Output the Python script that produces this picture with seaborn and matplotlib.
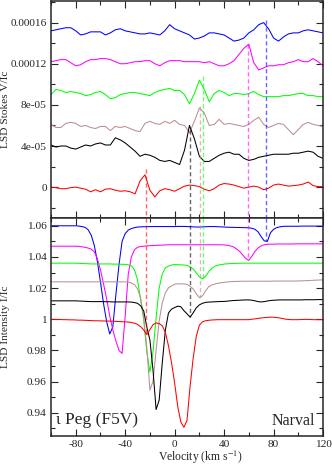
import numpy as np
import pandas as pd
import matplotlib
matplotlib.use("Agg")
import matplotlib.pyplot as plt
import seaborn as sns

# -------------------------------
# Data
# -------------------------------
epochs = ["blue", "magenta", "green", "brown", "black", "red"]
colors = ["#0000ff", "#ff00ff", "#00ff00", "#bc8f8f", "#000000", "#ff0000"]

vel_stokes = np.arange(-100, 121, 4)      # km/s, 56 samples
vel_int = np.arange(-100, 120.1, 2.5)     # km/s, 89 samples

# Stokes V/Ic, in units of 1e-5 (curves already shifted)
stokes_blue = [15.2, 15.3, 15.4, 15.5, 15.5, 15.2, 14.8, 14.9,
               15.1, 15.1, 15.1, 14.8, 15.0, 15.3, 15.4, 15.2,
               15.1, 15.0, 14.9, 14.9, 15.0, 14.9, 14.8, 15.2,
               15.8, 15.4, 15.2, 15.0, 14.8, 14.4, 14.5, 14.7,
               15.0, 15.0, 14.9, 14.8, 14.5, 14.2, 14.3, 14.5,
               15.0, 15.3, 15.8, 16.0, 15.4, 14.5, 14.2, 14.6,
               14.9, 15.0, 15.0, 15.2, 15.3, 15.2, 15.1, 15.0]
stokes_magenta = [12.2, 12.3, 12.4, 12.4, 12.1, 11.8, 11.9, 12.2,
                  12.4, 12.4, 12.5, 12.5, 12.4, 12.2, 12.0, 12.0,
                  12.1, 12.2, 12.2, 12.3, 12.3, 12.0, 11.8, 12.1,
                  12.3, 12.3, 12.3, 12.2, 12.2, 12.2, 12.2, 12.1,
                  12.2, 12.0, 11.8, 11.8, 12.0, 12.3, 12.9, 13.5,
                  13.9, 12.1, 11.4, 11.6, 11.8, 11.8, 11.9, 11.9,
                  12.1, 12.2, 12.4, 12.2, 12.2, 12.5, 12.2, 11.8]
stokes_green = [9.0, 9.5, 9.4, 9.2, 9.3, 9.2, 9.1, 8.9,
                9.0, 9.2, 9.3, 9.0, 8.6, 8.7, 9.0, 9.1,
                9.2, 9.2, 9.1, 9.0, 8.9, 9.2, 9.4, 9.5,
                9.6, 9.4, 9.4, 9.0, 8.1, 9.1, 10.4, 9.5,
                8.3, 9.1, 9.4, 9.2, 8.9, 9.1, 9.1, 9.0,
                9.1, 9.3, 9.0, 8.8, 8.8, 8.8, 8.8, 8.9,
                8.9, 9.0, 9.1, 9.1, 8.9, 8.9, 8.8, 8.8]
stokes_brown = [6.1, 5.8, 5.8, 6.2, 6.3, 6.2, 5.9, 6.0,
                5.8, 5.7, 5.9, 5.9, 5.5, 5.9, 5.8, 5.9,
                5.7, 5.5, 5.4, 6.2, 6.4, 6.2, 6.1, 6.4,
                6.2, 6.5, 6.1, 6.0, 5.3, 6.4, 7.7, 7.2,
                6.0, 6.1, 6.6, 6.1, 6.2, 6.1, 6.0, 5.9,
                6.1, 6.5, 6.8, 6.1, 5.8, 6.0, 6.2, 6.1,
                5.6, 5.1, 5.6, 6.1, 6.3, 6.1, 6.0, 5.9]
stokes_black = [4.1, 3.9, 4.0, 4.0, 3.8, 3.7, 3.9, 4.1,
                4.0, 4.2, 4.3, 4.1, 4.1, 4.8, 4.6, 4.3,
                3.9, 3.5, 3.0, 3.2, 3.1, 2.9, 2.6, 2.5,
                2.6, 2.4, 2.2, 3.6, 6.0, 4.7, 3.0, 2.5,
                2.5, 2.8, 3.1, 3.3, 3.4, 3.2, 3.2, 2.8,
                2.6, 2.7, 2.9, 3.0, 3.1, 3.2, 3.2, 3.2,
                3.2, 3.3, 3.3, 3.4, 3.5, 3.4, 3.0, 2.8]
stokes_red = [0.0, -0.05, -0.15, -0.15, -0.05, 0.0, -0.1, -0.2,
              -0.45, -0.25, -0.45, -0.2, -0.15, -0.3, -0.4, -0.35,
              -0.45, -0.65, 0.6, 1.2, -0.3, -0.95, -0.35, -0.15,
              -0.25, -0.4, -0.15, 0.1, 0.2, 0.15, 0.05, -0.2,
              -0.35, -0.15, 0.2, 0.35, 0.3, 0.2, 0.05, -0.1,
              0.0, 0.1, 0.0, -0.25, -0.1, 0.2, 0.3, 0.2,
              0.1, 0.15, 0.2, 0.3, 0.5, 0.15, 0.05, 0.05]

# Intensity I/Ic (curves already shifted)
int_blue = [1.0600, 1.0600, 1.0600, 1.0600, 1.0600, 1.0600, 1.0600, 1.0600,
            1.0600, 1.0598, 1.0595, 1.0590, 1.0575, 1.0540, 1.0475, 1.0370,
            1.0240, 1.0100, 0.9985, 0.9905, 0.9950, 1.0160, 1.0350, 1.0500,
            1.0550, 1.0572, 1.0582, 1.0588, 1.0592, 1.0593, 1.0594, 1.0594,
            1.0595, 1.0595, 1.0595, 1.0595, 1.0595, 1.0595, 1.0595, 1.0595,
            1.0595, 1.0596, 1.0596, 1.0596, 1.0595, 1.0594, 1.0593, 1.0592,
            1.0592, 1.0593, 1.0594, 1.0595, 1.0595, 1.0595, 1.0594, 1.0593,
            1.0592, 1.0591, 1.0590, 1.0590, 1.0589, 1.0589, 1.0588, 1.0588,
            1.0587, 1.0584, 1.0577, 1.0561, 1.0530, 1.0503, 1.0500, 1.0555,
            1.0577, 1.0588, 1.0593, 1.0596, 1.0597, 1.0597, 1.0597, 1.0597,
            1.0597, 1.0598, 1.0598, 1.0598, 1.0598, 1.0598, 1.0598, 1.0598,
            1.0598]
int_magenta = [1.0469, 1.0469, 1.0469, 1.0469, 1.0469, 1.0469, 1.0469, 1.0469,
               1.0469, 1.0468, 1.0465, 1.0462, 1.0457, 1.0450, 1.0433, 1.0388,
               1.0317, 1.0227, 1.0131, 1.0021, 0.9931, 0.9860, 0.9800, 0.9780,
               1.0020, 1.0290, 1.0400, 1.0446, 1.0462, 1.0467, 1.0469, 1.0471,
               1.0472, 1.0473, 1.0474, 1.0475, 1.0476, 1.0477, 1.0478, 1.0478,
               1.0478, 1.0478, 1.0478, 1.0478, 1.0478, 1.0478, 1.0478, 1.0478,
               1.0478, 1.0478, 1.0478, 1.0478, 1.0478, 1.0478, 1.0478, 1.0478,
               1.0477, 1.0475, 1.0471, 1.0465, 1.0452, 1.0436, 1.0413, 1.0390,
               1.0378, 1.0405, 1.0436, 1.0458, 1.0471, 1.0478, 1.0481, 1.0482,
               1.0482, 1.0483, 1.0483, 1.0483, 1.0483, 1.0483, 1.0483, 1.0484,
               1.0484, 1.0484, 1.0484, 1.0484, 1.0484, 1.0484, 1.0484, 1.0484,
               1.0484]
int_green = [1.0360, 1.0360, 1.0360, 1.0360, 1.0360, 1.0360, 1.0360, 1.0360,
             1.0360, 1.0359, 1.0358, 1.0357, 1.0356, 1.0355, 1.0355, 1.0355,
             1.0355, 1.0355, 1.0355, 1.0355, 1.0354, 1.0354, 1.0353, 1.0353,
             1.0352, 1.0349, 1.0343, 1.0317, 1.0253, 1.0124, 0.9996, 0.9790,
             0.9661, 0.9790, 1.0008, 1.0201, 1.0291, 1.0330, 1.0341, 1.0348,
             1.0351, 1.0350, 1.0349, 1.0348, 1.0346, 1.0336, 1.0323, 1.0298,
             1.0272, 1.0259, 1.0275, 1.0304, 1.0327, 1.0340, 1.0347, 1.0351,
             1.0354, 1.0356, 1.0357, 1.0358, 1.0359, 1.0359, 1.0360, 1.0360,
             1.0360, 1.0360, 1.0360, 1.0360, 1.0360, 1.0360, 1.0360, 1.0360,
             1.0360, 1.0360, 1.0360, 1.0360, 1.0360, 1.0360, 1.0360, 1.0360,
             1.0360, 1.0360, 1.0360, 1.0360, 1.0360, 1.0360, 1.0360, 1.0360,
             1.0360]
int_brown = [1.0240, 1.0240, 1.0240, 1.0240, 1.0240, 1.0240, 1.0240, 1.0240,
             1.0240, 1.0240, 1.0240, 1.0240, 1.0240, 1.0240, 1.0240, 1.0240,
             1.0240, 1.0240, 1.0240, 1.0240, 1.0240, 1.0240, 1.0240, 1.0240,
             1.0240, 1.0238, 1.0233, 1.0222, 1.0195, 1.0137, 1.0008, 0.9815,
             0.9545, 0.9600, 0.9800, 0.9989, 1.0105, 1.0169, 1.0201, 1.0214,
             1.0225, 1.0227, 1.0227, 1.0227, 1.0224, 1.0211, 1.0195, 1.0163,
             1.0139, 1.0150, 1.0182, 1.0208, 1.0220, 1.0226, 1.0231, 1.0234,
             1.0237, 1.0239, 1.0241, 1.0242, 1.0243, 1.0243, 1.0244, 1.0244,
             1.0244, 1.0244, 1.0244, 1.0244, 1.0244, 1.0244, 1.0244, 1.0244,
             1.0245, 1.0245, 1.0245, 1.0245, 1.0245, 1.0245, 1.0245, 1.0245,
             1.0246, 1.0246, 1.0247, 1.0248, 1.0249, 1.0250, 1.0251, 1.0252,
             1.0253]
int_black = [1.0118, 1.0118, 1.0118, 1.0118, 1.0118, 1.0118, 1.0118, 1.0118,
             1.0118, 1.0117, 1.0116, 1.0115, 1.0114, 1.0113, 1.0113, 1.0113,
             1.0113, 1.0113, 1.0112, 1.0112, 1.0111, 1.0111, 1.0111, 1.0111,
             1.0111, 1.0111, 1.0110, 1.0107, 1.0102, 1.0086, 1.0053, 0.9950,
             0.9867, 0.9674, 0.9420, 0.9480, 0.9720, 0.9930, 1.0040, 1.0065,
             1.0075, 1.0084, 1.0080, 1.0055, 1.0035, 1.0013, 1.0041, 1.0073,
             1.0092, 1.0102, 1.0108, 1.0110, 1.0111, 1.0112, 1.0113, 1.0114,
             1.0114, 1.0116, 1.0118, 1.0120, 1.0121, 1.0122, 1.0123, 1.0124,
             1.0124, 1.0122, 1.0118, 1.0113, 1.0111, 1.0113, 1.0117, 1.0120,
             1.0122, 1.0123, 1.0124, 1.0124, 1.0124, 1.0124, 1.0124, 1.0124,
             1.0124, 1.0124, 1.0125, 1.0125, 1.0125, 1.0125, 1.0126, 1.0126,
             1.0126]
int_red = [0.9999, 0.9999, 0.9998, 0.9998, 0.9997, 0.9997, 0.9996, 0.9996,
           0.9995, 0.9994, 0.9994, 0.9993, 0.9992, 0.9991, 0.9990, 0.9990,
           0.9989, 0.9989, 0.9988, 0.9988, 0.9987, 0.9986, 0.9985, 0.9984,
           0.9983, 0.9982, 0.9979, 0.9974, 0.9967, 0.9952, 0.9930, 0.9901,
           0.9933, 0.9965, 0.9976, 0.9972, 0.9958, 0.9915, 0.9830, 0.9720,
           0.9590, 0.9440, 0.9340, 0.9306, 0.9350, 0.9570, 0.9750, 0.9890,
           0.9962, 0.9983, 0.9990, 0.9993, 0.9995, 0.9996, 0.9997, 0.9997,
           0.9997, 0.9997, 0.9997, 0.9997, 0.9997, 0.9997, 0.9997, 0.9997,
           0.9997, 1.0000, 1.0002, 1.0005, 1.0008, 1.0010, 1.0012, 1.0013,
           1.0013, 1.0011, 1.0008, 1.0004, 1.0000, 0.9998, 0.9997, 0.9997,
           0.9997, 0.9998, 0.9999, 0.9999, 0.9998, 0.9997, 0.9997, 0.9997,
           0.9997]

# secondary-component velocity (dashed markers): V top (1e-5) and I dip
sec_vel = [73.6, 59.0, 22.8, 20.5, 12.5, -23.0]
sec_v_top = [16.3, 13.9, 10.8, 7.9, 5.6, 1.75]
sec_i_dip = [1.0500, 1.0378, 1.0259, 1.0139, 1.0013, 0.9901]

v_ticks = [0, 4e-5, 8e-5, 12e-5, 16e-5]
v_tick_labels = ["0", "4e-05", "8e-05", "0.00012", "0.00016"]
i_ticks = [0.94, 0.96, 0.98, 1.00, 1.02, 1.04, 1.06]
i_tick_labels = ["0.94", "0.96", "0.98", "1", "1.02", "1.04", "1.06"]
x_ticks = [-80, -40, 0, 40, 80, 120]
x_tick_labels = ["-80", "-40", "0", "40", "80", "120"]

# -------------------------------
# Long-format tables
# -------------------------------
stokes = [stokes_blue, stokes_magenta, stokes_green, stokes_brown, stokes_black, stokes_red]
intens = [int_blue, int_magenta, int_green, int_brown, int_black, int_red]

df_v = pd.concat([pd.DataFrame({"vel": vel_stokes, "V": np.array(s) * 1e-5, "epoch": e})
                  for s, e in zip(stokes, epochs)], ignore_index=True)
df_i = pd.concat([pd.DataFrame({"vel": vel_int, "I": i, "epoch": e})
                  for i, e in zip(intens, epochs)], ignore_index=True)
palette = dict(zip(epochs, colors))

# -------------------------------
# Plot
# -------------------------------
sns.set_style("ticks")
plt.rcParams["font.family"] = ["Liberation Serif", "DejaVu Serif"]
plt.rcParams["mathtext.fontset"] = "stix"
plt.rcParams["axes.unicode_minus"] = False

fig = plt.figure(figsize=(3.32, 4.66), dpi=100)
ax1 = fig.add_axes([51 / 332, 1 - 218 / 466, 272 / 332, 217 / 466])
ax2 = fig.add_axes([51 / 332, 30 / 466, 272 / 332, 218 / 466])

sns.lineplot(data=df_v, x="vel", y="V", hue="epoch", palette=palette,
             estimator=None, sort=False, legend=False, linewidth=0.75, ax=ax1)
sns.lineplot(data=df_i, x="vel", y="I", hue="epoch", palette=palette,
             estimator=None, sort=False, legend=False, linewidth=0.75, ax=ax2)

ax1.set_xlim(-100, 120)
ax2.set_xlim(-100, 120)
ax1.set_ylim(-3.0e-5, 1.81e-4)
ax2.set_ylim(0.925, 1.065)

# dashed markers through both panels
for x, top, dip, c in zip(sec_vel, sec_v_top, sec_i_dip, colors):
    ax1.plot([x, x], [top * 1e-5, ax1.get_ylim()[0]], ls=(0, (3, 2)), lw=1.0,
             color=c, alpha=0.6)
    ax2.plot([x, x], [ax2.get_ylim()[1], dip], ls=(0, (3, 2)), lw=1.0,
             color=c, alpha=0.6)

for ax in (ax1, ax2):
    ax.set_xticks(x_ticks)
    ax.set_xticks([-100, -60, -20, 20, 60, 100], minor=True)
    ax.tick_params(which="both", direction="in", top=True, right=True,
                   labelsize=8.2, width=0.8, pad=3)
    ax.tick_params(which="major", length=5)
    ax.tick_params(which="minor", length=3)
    for sp in ax.spines.values():
        sp.set_linewidth(1.1)
    ax.set_xlabel("")

ax1.set_xticklabels([])
ax1.set_yticks(v_ticks)
ax1.set_yticklabels(v_tick_labels)
ax1.set_yticks([-2e-5, 2e-5, 6e-5, 10e-5, 14e-5, 18e-5], minor=True)
ax1.set_ylabel("LSD Stokes V/Ic", fontsize=8.2)
ax1.yaxis.set_label_coords(-0.15, 0.5)

ax2.set_xticklabels(x_tick_labels)
ax2.set_yticks(i_ticks)
ax2.set_yticks([0.93, 0.95, 0.97, 0.99, 1.01, 1.03, 1.05], minor=True)
ax2.set_yticklabels(i_tick_labels)
ax2.set_ylabel("LSD Intensity I/Ic", fontsize=8.2)
ax2.yaxis.set_label_coords(-0.15, 0.5)
ax2.set_xlabel("Velocity (km s$^{-1}$)", fontsize=8.4)
ax2.xaxis.set_label_coords(0.55, -0.058)

ax2.text(0.018, 0.075, "\u03b9 Peg (F5V)", transform=ax2.transAxes,
         fontsize=12.5, ha="left", va="center")
ax2.text(0.97, 0.07, "Narval", transform=ax2.transAxes,
         fontsize=11.5, ha="right", va="center")

fig.savefig("out.png", dpi=100)
